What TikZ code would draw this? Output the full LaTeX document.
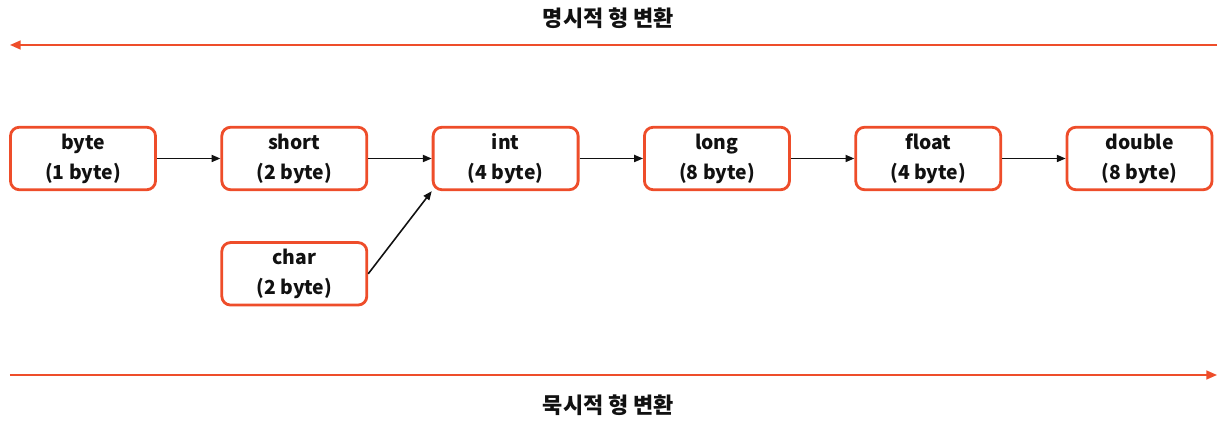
\documentclass[tikz,border=0pt]{standalone}
\usepackage{fontspec}
\setmainfont{Noto Sans CJK KR}
\usetikzlibrary{arrows.meta,positioning}
\definecolor{castorange}{HTML}{EE4D2A}
\definecolor{gray90}{HTML}{111111}

\tikzset{
  typebox/.style={draw=castorange,line width=1.6pt,rounded corners=5pt,
    minimum width=2.9cm,minimum height=1.25cm,inner sep=2pt,align=center,
    font=\fontsize{11}{17}\selectfont\bfseries,text=gray90},
  widen/.style={-{Triangle[length=5pt,width=4pt]},line width=0.9pt,gray90},
  castline/.style={-{Triangle[length=6pt,width=5pt]},line width=1pt,castorange},
  castlabel/.style={font=\fontsize{12.5}{15}\selectfont\bfseries,text=gray90}
}

\begin{document}
\begin{tikzpicture}

\useasboundingbox (0,0) rectangle (24.56,8.52);

\node[typebox] (byte) at (1.66,5.35) {byte\\(1 byte)};
\node[typebox,right=1.27cm of byte] (short) {short\\(2 byte)};
\node[typebox,right=1.27cm of short] (int) {int\\(4 byte)};
\node[typebox,right=1.27cm of int] (long) {long\\(8 byte)};
\node[typebox,right=1.27cm of long] (float) {float\\(4 byte)};
\node[typebox,right=1.27cm of float] (double) {double\\(8 byte)};
\node[typebox,below=1cm of short] (char) {char\\(2 byte)};

\foreach \a/\b in {byte/short,short/int,int/long,long/float,float/double}{
  \draw[widen] (\a) -- (\b);
}
\draw[widen] (char.east) -- (int.south west);

% explicit cast: right to left
\coordinate (topR) at (24.34,7.62);
\coordinate (topL) at (0.2,7.62);
\draw[castline] (topR) -- (topL);
\node[castlabel] (explicit) at (12.17,8.16) {명시적 형 변환};

% implicit cast: left to right
\coordinate (botL) at (0.2,1.02);
\coordinate (botR) at (24.34,1.02);
\draw[castline] (botL) -- (botR);
\node[castlabel] (implicit) at (12.17,0.42) {묵시적 형 변환};

\end{tikzpicture}
\end{document}
